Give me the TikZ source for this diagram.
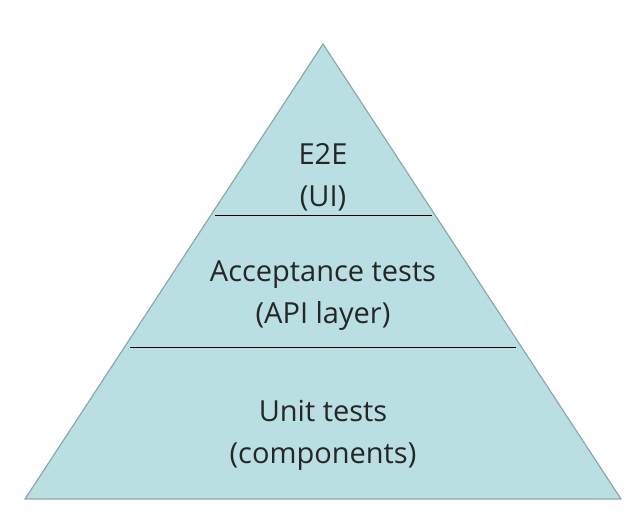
\documentclass[tikz,border=0pt]{standalone}
\usepackage{fontspec}
\setmainfont{Open Sans}
\usetikzlibrary{positioning,calc}
\definecolor{pyrfill}{HTML}{B9DFE2}
\definecolor{pyredge}{HTML}{8CA9AB}
\tikzset{
    pyramid/.style={
        draw=pyredge,
        fill=pyrfill,
        line width=1.2pt,
        line join=miter,
    },
    layer line/.style={
        draw=black,
        line width=0.9pt,
    },
    layer text/.style={
        align=center,
        font=\fontsize{29}{42}\selectfont,
        text=black!85,
        inner sep=0pt,
    },
}
\begin{document}
\begin{tikzpicture}[x=1pt,y=1pt]
    \useasboundingbox (0,0) rectangle (643,524);
    \coordinate (apex) at (323,480);
    \coordinate (bl) at (25,25);
    \coordinate (br) at (621,25);
    \draw[pyramid] (bl) -- (apex) -- (br) -- cycle;
    % layer borders
    \coordinate (l1a) at (215,309);
    \coordinate (l1b) at (432,309);
    \coordinate (l2a) at (130,177);
    \coordinate (l2b) at (516,177);
    \draw[layer line] (l1a) -- (l1b);
    \draw[layer line] (l2a) -- (l2b);
    \node[layer text](e2e) at (323,347) {E2E\\(UI)};
    \node[layer text](acc) at (323,228) {Acceptance tests\\(API layer)};
    \node[layer text](unit) at (323,89) {Unit tests\\(components)};
\end{tikzpicture}
\end{document}
